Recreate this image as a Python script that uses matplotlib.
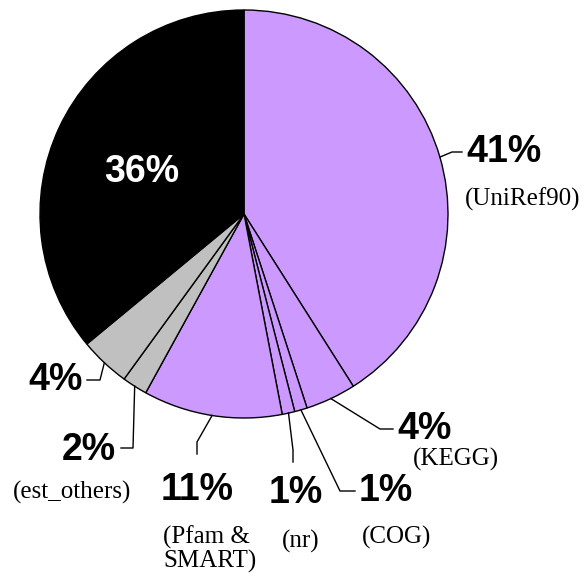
import numpy as np
import matplotlib.pyplot as plt

# slice data, clockwise from 12 o'clock
pcts = [41, 4, 1, 1, 11, 2, 4, 36]
names = ['(UniRef90)', '(KEGG)', '(COG)', '(nr)', '(Pfam &\nSMART)', '(est_others)', '', '']
colors = ['#CC99FF', '#CC99FF', '#CC99FF', '#CC99FF', '#CC99FF', '#C0C0C0', '#C0C0C0', '#000000']

W, H = 587, 578
fig = plt.figure(figsize=(W / 100, H / 100), dpi=100)
ax = fig.add_axes([0, 0, 1, 1])
ax.set_xlim(0, W)
ax.set_ylim(0, H)
ax.set_aspect('equal')
ax.axis('off')

cx, cy, r = 244, H - 214, 204
wedges, _ = ax.pie(pcts, colors=colors, startangle=90, counterclock=False,
                   center=(cx, cy), radius=r, frame=True,
                   wedgeprops=dict(edgecolor='black', linewidth=1.0))
ax.set_xlim(0, W)
ax.set_ylim(0, H)
ax.axis('off')

# label layout in pixel coords (x, y from top): elbow, end of leader, percent pos, name pos
layout = [
    dict(elbow=(452, 152), end=(462, 152), pct=(466, 152, 'left'), name=(465, 199, 'left')),
    dict(elbow=(380, 429), end=(393, 429), pct=(397, 429, 'left'), name=(413, 459, 'left')),
    dict(elbow=(340, 491), end=(355, 491), pct=(359, 491, 'left'), name=(397, 537, 'center')),
    dict(elbow=(293, 450), end=(293, 462), pct=(296, 493, 'center'), name=(301, 541, 'center')),
    dict(elbow=(197, 442), end=(197, 454), pct=(197, 490, 'center'), name=(163, 549, 'left')),
    dict(elbow=(133, 448), end=(121, 448), pct=(116, 450, 'right'), name=(72, 492, 'center')),
    dict(elbow=(100, 380), end=(87, 380), pct=(83, 380, 'right'), name=None),
]

for w, p, nm, lay in zip(wedges, pcts, names, layout):
    ang = np.deg2rad((w.theta1 + w.theta2) / 2)
    sx, sy = cx + r * np.cos(ang), cy + r * np.sin(ang)
    ex, ey = lay['elbow']
    fx, fy = lay['end']
    ax.plot([sx, ex, fx], [sy, H - ey, H - fy], color='black', lw=1.0)
    px, py, ha = lay['pct']
    ax.text(px, H - py, f'{p}%', ha=ha, va='center', fontsize=27,
            fontweight='bold', family='Liberation Sans')
    if lay['name']:
        nx, ny, nha = lay['name']
        ax.text(nx, H - ny, nm, ha=nha, va='center', fontsize=18,
                family='Liberation Serif', linespacing=1.05)

# black slice label inside
ax.text(142, H - 172, f'{pcts[-1]}%', ha='center', va='center', fontsize=27,
        fontweight='bold', family='Liberation Sans', color='white')

fig.savefig('out.png', dpi=100)
